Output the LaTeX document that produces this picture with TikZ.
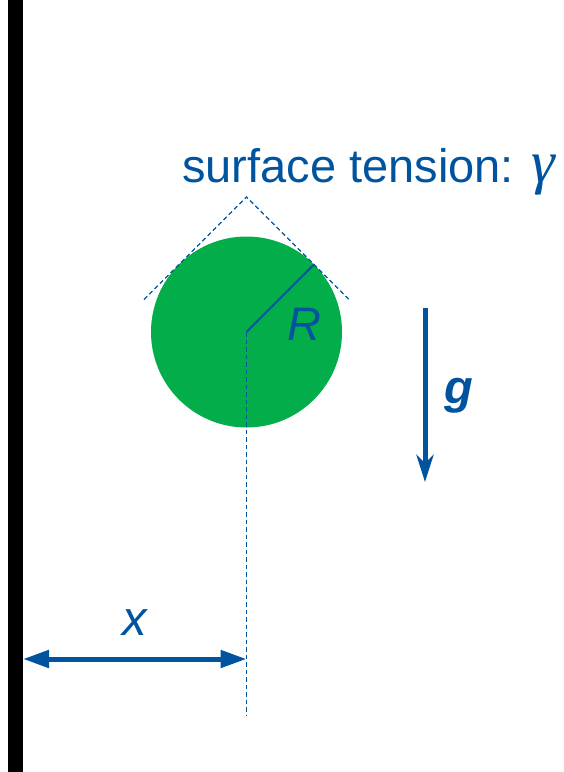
\documentclass[tikz,border=0pt]{standalone}
\usepackage{fontspec}
\setmainfont{Liberation Sans}
\newfontfamily\seriffont{Liberation Serif}
\usetikzlibrary{arrows.meta}
\definecolor{myblue}{RGB}{0,84,159}
\definecolor{mygreen}{RGB}{3,174,74}
\begin{document}
\begin{tikzpicture}[x=1pt,y=-1pt,
  lbl/.style={text=myblue, inner sep=0pt, font=\fontsize{47}{54}\selectfont},
  dashline/.style={myblue, line width=1.1pt, dash pattern=on 4.5pt off 3pt},
  bigarrow/.style={myblue, line width=5pt}]
\useasboundingbox (0,0) rectangle (563,772);
% wall
\node[fill=black, inner sep=0pt, minimum width=15pt, minimum height=772pt, anchor=north west] (wall) at (8,0) {};
% drop
\node[circle, fill=mygreen, inner sep=0pt, minimum size=191pt] (drop) at (246.5,332) {};
\coordinate (apex) at (246.5,197);
\coordinate (tl) at (144,299.5);
\coordinate (tr) at (349,299.5);
\coordinate (bottom) at (246.5,715);
\coordinate (xl) at (23,659);
\coordinate (xr) at (246.5,659);
\coordinate (gtop) at (425,308);
\coordinate (gbot) at (425,482);
% dashed tangents and vertical
\draw[dashline] (tl) -- (apex) -- (tr);
\draw[dashline] (drop.center) -- (bottom);
% radius
\draw[myblue, line width=2pt] (drop.center) -- (drop.45);
% labels
\node[lbl, anchor=base west] (st) at (182,182) {surface tension: {\seriffont\itshape\fontsize{60}{60}\selectfont γ}};
\node[lbl, anchor=base, font=\fontsize{47}{54}\selectfont\itshape] (R) at (304,340) {R};
\node[lbl, anchor=base, font=\fontsize{47}{54}\selectfont\bfseries\itshape] (g) at (459,403) {g};
\node[lbl, anchor=base, font=\fontsize{49}{54}\selectfont\itshape] (x) at (135,635) {x};
% arrows
\draw[bigarrow, -{Stealth[length=27pt,width=17pt,inset=8pt]}] (gtop) -- (gbot);
\draw[bigarrow, {Triangle[length=26pt,width=17pt]}-{Triangle[length=26pt,width=17pt]}] (xl) -- (xr);
\end{tikzpicture}
\end{document}
